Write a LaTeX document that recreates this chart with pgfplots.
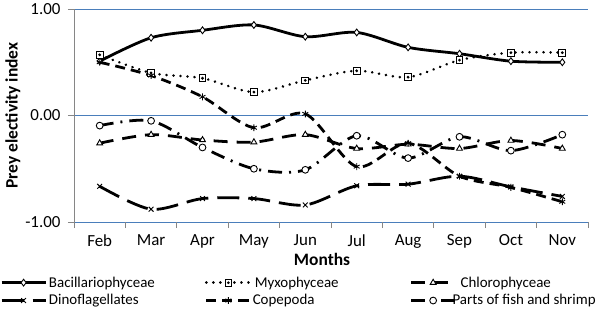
\documentclass[border=0pt]{standalone}
\usepackage{fontspec}
\setmainfont{Carlito}
\usepackage{pgfplots}
\pgfplotsset{compat=1.18}
\definecolor{gridblue}{HTML}{4A7EBB}
\definecolor{axgray}{HTML}{868686}
\pgfdeclareplotmark{sqdot}{%
  \pgfsetfillcolor{white}%
  \pgfpathrectangle{\pgfpoint{-\pgfplotmarksize}{-\pgfplotmarksize}}{\pgfpoint{2\pgfplotmarksize}{2\pgfplotmarksize}}%
  \pgfusepath{stroke,fill}%
  \pgfsetfillcolor{black}%
  \pgfpathcircle{\pgfpointorigin}{0.45\pgfplotmarksize}%
  \pgfusepath{fill}%
  \pgfsetfillcolor{white}}
\begin{document}
\begin{tikzpicture}[x=1bp,y=1bp]
\begin{axis}[
  at={(74bp,88bp)}, anchor=south west,
  scale only axis, width=514bp, height=213bp,
  xmin=-0.5, xmax=9.5, ymin=-1, ymax=1,
  xtick={0,...,9},
  xticklabels={Feb,Mar,Apr,May,Jun,Jul,Aug,Sep,Oct,Nov},
  minor xtick={-0.5,0.5,...,9.5},
  ytick={-1,0,1},
  yticklabels={-1.00,0.00,1.00},
  major x tick style={draw=none},
  minor x tick style={axgray, line width=0.8pt},
  minor tick length=6bp,
  major y tick style={axgray, line width=0.8pt},
  major tick length=6bp,
  tick align=outside,
  xtick pos=bottom, ytick pos=left,
  axis line style={draw=none},
  ymajorgrids, major grid style={gridblue, line width=0.8pt},
  tick label style={font=\fontsize{17}{19}\selectfont, text=black},
  xticklabel style={yshift=-3bp},
  yticklabel style={xshift=-4bp},
  xlabel={\textbf{Months}},
  xlabel style={font=\fontsize{17.5}{19}\selectfont, at={(axis description cs:0.4825,-0.174)}, anchor=center},
  ylabel={\textbf{Prey electivity index}},
  ylabel style={font=\fontsize{17.5}{19}\selectfont, at={(axis description cs:-0.119,0.5)}, anchor=center},
  legend columns=3,
  legend cell align=left,
  legend style={draw=none, fill=none, at={(axis description cs:-0.144,-0.256)}, anchor=north west,
    font=\fontsize{15}{17}\selectfont, inner sep=0pt, row sep=6bp,
    nodes={inner sep=0pt, anchor=west}},
  legend image code/.code={\draw[mark repeat=2,mark phase=2,#1] plot coordinates {(0bp,0bp) (22bp,0bp) (44bp,0bp)};},
  every axis plot/.append style={line width=2.8pt, smooth, black,
     mark options={solid, line width=0.9pt, fill=white, mark size=3.4bp}},
]
\draw[axgray, line width=0.8pt] (rel axis cs:0,0) -- (rel axis cs:1,0);
\draw[axgray, line width=0.8pt] (rel axis cs:0,0) -- (rel axis cs:0,1);

\addplot[mark=diamond*] coordinates {(0,0.51) (1,0.73) (2,0.80) (3,0.85) (4,0.74) (5,0.78) (6,0.64) (7,0.58) (8,0.51) (9,0.50)};
\addlegendentry{\makebox[158bp][l]{\hspace{2bp}Bacillariophyceae}}

\addplot[mark=sqdot, line cap=round, dash pattern=on 0.01pt off 7bp] coordinates {(0,0.57) (1,0.40) (2,0.35) (3,0.22) (4,0.33) (5,0.42) (6,0.36) (7,0.52) (8,0.59) (9,0.59)};
\addlegendentry{\makebox[158bp][l]{\hspace{3bp}Myxophyceae}}

\addplot[mark=triangle*, dash pattern=on 14bp off 9bp] coordinates {(0,-0.26) (1,-0.18) (2,-0.23) (3,-0.25) (4,-0.18) (5,-0.31) (6,-0.27) (7,-0.31) (8,-0.235) (9,-0.31)};
\addlegendentry{\hspace{4bp}Chlorophyceae}

\addplot[mark=x, dash pattern=on 22bp off 9bp] coordinates {(0,-0.665) (1,-0.88) (2,-0.78) (3,-0.78) (4,-0.84) (5,-0.66) (6,-0.645) (7,-0.57) (8,-0.67) (9,-0.76)};
\addlegendentry{\makebox[158bp][l]{\hspace{2bp}Dinoflagellates}}

\addplot[mark=asterisk, dash pattern=on 10bp off 6bp] coordinates {(0,0.50) (1,0.375) (2,0.175) (3,-0.115) (4,0.015) (5,-0.48) (6,-0.26) (7,-0.57) (8,-0.675) (9,-0.81)};
\addlegendentry{\makebox[158bp][l]{\hspace{1bp}Copepoda}}

\addplot[mark=*, dash pattern=on 14bp off 7bp on 2bp off 7bp] coordinates {(0,-0.095) (1,-0.05) (2,-0.30) (3,-0.50) (4,-0.51) (5,-0.19) (6,-0.40) (7,-0.20) (8,-0.33) (9,-0.18)};
\addlegendentry{\hspace{-4bp}Parts of fish and shrimp}
\end{axis}
\pgfresetboundingbox
\path[use as bounding box] (0,0) rectangle (600bp,310bp);
\end{tikzpicture}
\end{document}
